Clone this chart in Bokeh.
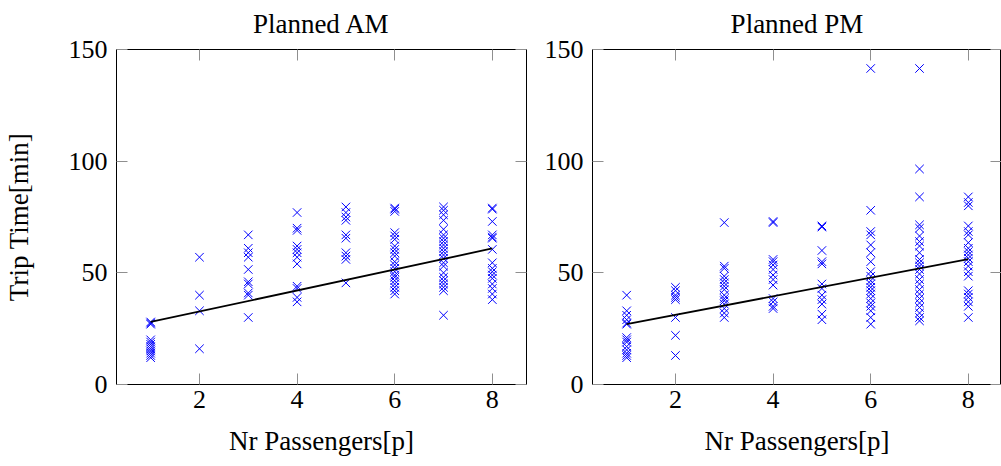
import math
from bokeh.plotting import figure
from bokeh.layouts import row
from bokeh.models import LinearAxis, Range1d, FixedTicker, ColumnDataSource
from bokeh.embed import file_html
from bokeh.resources import INLINE

# ---- data (trip time in minutes per number of passengers) ----
passengers = [1, 2, 3, 4, 5, 6, 7, 8]

am_p1 = [27.5, 28, 27, 20, 19, 18, 17, 16, 15, 14, 13, 12]
am_p2 = [57, 40, 33, 16]
am_p3 = [67, 61, 59, 57, 51.5, 46, 45, 41, 40, 30]
am_p4 = [77, 70, 69, 62, 60.5, 59, 57, 54, 44, 43, 39, 37]
am_p5 = [79.5, 77, 75, 73.5, 67, 65.5, 59, 57.5, 56, 45.5]
am_p6 = [79, 78.5, 77.5, 68, 66.5, 65, 62, 60.5, 59, 57.5, 55, 53.5, 52, 50.5,
         49, 48, 46.5, 45, 43.5, 42, 40.5]
am_p7 = [79.5, 78, 76, 73.5, 69.5, 67, 65.5, 64, 62.5, 61, 59.5, 58, 56.5, 54.5,
         53, 50, 48, 46.5, 45, 43.5, 42, 31]
am_p8 = [79, 78.5, 73, 67, 66, 65.5, 60.5, 54.5, 52, 50.5, 49, 47.5, 45, 43,
         40.5, 38]

pm_p1 = [40, 33, 31, 29, 27, 27.5, 21, 20, 19, 17, 15.5, 14, 13, 12]
pm_p2 = [43.5, 42, 40, 39, 38, 30, 22, 13]
pm_p3 = [72.5, 53, 52, 48.5, 47, 45.5, 44, 42.5, 40, 38.5, 37.5, 36, 34, 32, 30]
pm_p4 = [73, 72.5, 56, 55, 53.5, 51.5, 49, 47, 44.5, 38.5, 37, 35, 34]
pm_p5 = [71, 70.5, 60, 55, 54, 45, 43, 40, 38, 36, 31.5, 29]
pm_p6 = [141.5, 78, 68.5, 67, 62.5, 59, 55, 50.5, 48.5, 46.5, 45, 43.5, 42,
         40.5, 38.5, 36.5, 35, 33, 30, 27]
pm_p7 = [141.5, 96.5, 84, 71.5, 70, 66.5, 64, 62, 59, 56, 54.5, 53, 51.5, 49.5,
         47, 45, 42.5, 40.5, 38.5, 36.5, 34.5, 32, 30, 28.5]
pm_p8 = [84, 81.5, 80, 71, 68.5, 67, 63.5, 61, 59.5, 58, 56.5, 55, 53, 50.5,
         48.5, 42, 40.5, 39, 37, 35, 30]

# linear fit: trip = intercept + slope * passengers
am_fit_intercept, am_fit_slope = 23.3, 4.7
pm_fit_intercept, pm_fit_slope = 22.9, 4.15

x_ticks = [2, 4, 6, 8]
y_ticks = [0, 50, 100, 150]

titles = ["Planned AM", "Planned PM"]
x_label = "Nr Passengers[p]"
y_label = "Trip Time[min]"

FONT = "Liberation Serif"
FS = "26px"
FS_LABEL = "27px"
BLUE = "#0000ff"
TICK = "#8f8f8f"


def make_plot(cols, intercept, slope, title, width, x_end, left, right, with_ylabel):
    p = figure(width=width, height=466, output_backend="svg", toolbar_location=None,
               x_range=Range1d(0.3, x_end), y_range=Range1d(0, 150),
               x_axis_location=None, y_axis_location=None,
               min_border_left=left, min_border_right=right,
               min_border_top=47, min_border_bottom=82)
    p.grid.visible = False
    p.outline_line_color = "black"
    p.outline_line_width = 1
    p.background_fill_color = "white"
    p.border_fill_color = "white"

    p.title.text = title
    p.title.align = "center"
    p.title.vertical_align = "top"
    p.title.text_font = FONT
    p.title.text_font_size = FS_LABEL
    p.title.text_font_style = "normal"
    p.title.text_color = "black"
    p.title.standoff = 17

    for loc in ["left", "right", "above", "below"]:
        ticker = FixedTicker(ticks=y_ticks if loc in ("left", "right") else x_ticks)
        ax = LinearAxis(ticker=ticker)
        ax.axis_line_color = None
        ax.major_tick_in = 11
        ax.major_tick_out = 0
        ax.major_tick_line_color = TICK
        ax.major_tick_line_width = 1
        ax.minor_tick_line_color = None
        ax.major_label_text_font = FONT
        ax.major_label_text_color = "black"
        ax.axis_label_text_font = FONT
        ax.axis_label_text_font_size = FS_LABEL
        ax.axis_label_text_font_style = "normal"
        ax.axis_label_text_color = "black"
        if loc == "left":
            ax.major_label_text_font_size = FS
            ax.major_label_standoff = 9
            if with_ylabel:
                ax.axis_label = y_label
                ax.axis_label_standoff = 32
        elif loc == "below":
            ax.major_label_text_font_size = FS
            ax.major_label_standoff = 6
            ax.axis_label = x_label
            ax.axis_label_standoff = 15
        else:
            ax.major_label_text_font_size = "1px"
            ax.major_label_text_color = None
            ax.major_label_standoff = 0
        p.add_layout(ax, loc)

    xs, ys = [], []
    for pval, vals in zip(passengers, cols):
        xs.extend([pval] * len(vals))
        ys.extend(vals)
    src = ColumnDataSource(dict(x=xs, y=ys))
    # an "x" mark drawn as a cross turned by 45 degrees
    p.scatter("x", "y", source=src, marker="cross", angle=math.pi / 4, size=12,
              line_color=BLUE, fill_color=None, line_width=1)

    fx = [passengers[0], passengers[-1]]
    fy = [intercept + slope * v for v in fx]
    p.line(fx, fy, line_color="black", line_width=1.8)
    return p


am_cols = [am_p1, am_p2, am_p3, am_p4, am_p5, am_p6, am_p7, am_p8]
pm_cols = [pm_p1, pm_p2, pm_p3, pm_p4, pm_p5, pm_p6, pm_p7, pm_p8]

px_per_unit = 410 / 8.4
p1 = make_plot(am_cols, am_fit_intercept, am_fit_slope, titles[0],
               width=536, x_end=8.7, left=116, right=10, with_ylabel=True)
p2 = make_plot(pm_cols, pm_fit_intercept, pm_fit_slope, titles[1],
               width=465, x_end=0.3 + 409 / px_per_unit, left=56, right=0,
               with_ylabel=False)

layout = row(p1, p2)
open("out.html", "w").write(file_html(layout, INLINE))
